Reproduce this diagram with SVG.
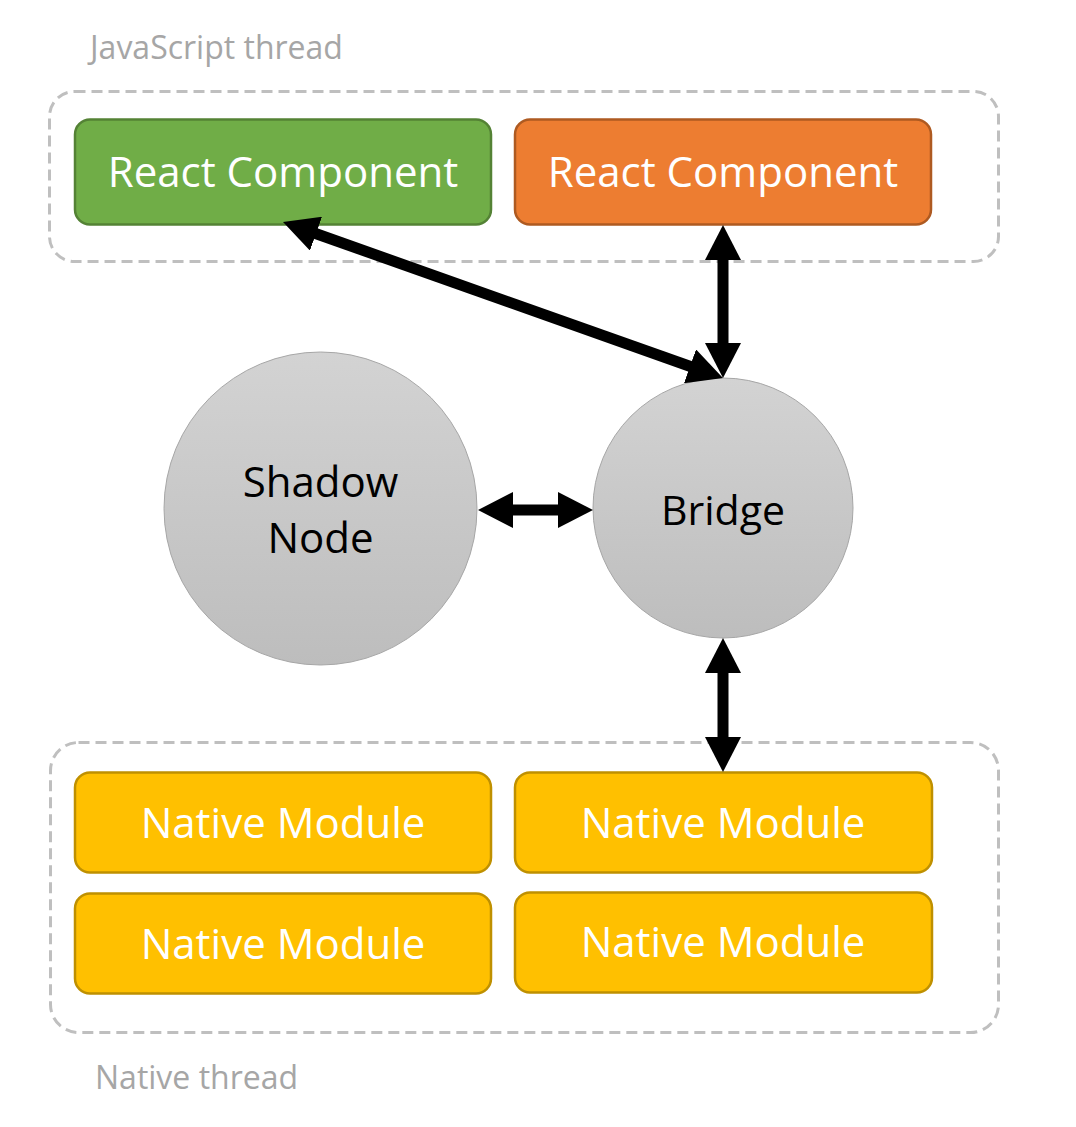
<svg xmlns="http://www.w3.org/2000/svg" width="1076" height="1127" viewBox="0 0 1076 1127">
<defs>
<linearGradient id="gray" x1="0" y1="0" x2="0" y2="1">
<stop offset="0" stop-color="#d3d3d3"/>
<stop offset="1" stop-color="#bdbdbd"/>
</linearGradient>
<marker id="ah" viewBox="0 0 35 36" refX="5" refY="18" markerWidth="35" markerHeight="36" markerUnits="userSpaceOnUse" orient="auto-start-reverse">
<path d="M0,0 L35,18 L0,36 z" fill="#000"/>
</marker>
<style>
.grp{fill:none;stroke:#bfbfbf;stroke-width:3;stroke-dasharray:11 6}
.glabel{font-family:"Open Sans","Liberation Sans",sans-serif;font-size:32px;fill:#a6a6a6}
.box{stroke-width:2.5}
.btxt{font-family:"Open Sans","Liberation Sans",sans-serif;font-size:42px;fill:#fff;text-anchor:middle}
.ctxt{font-family:"Open Sans","Liberation Sans",sans-serif;font-size:42px;fill:#000;text-anchor:middle}
.circ{fill:url(#gray);stroke:#a6a6a6;stroke-width:1}
.nm{fill:#ffc000;stroke:#bf9000}
.conn{stroke:#000;stroke-width:11;fill:none;marker-start:url(#ah);marker-end:url(#ah)}
</style>
</defs>
<g id="js-thread">
<rect class="grp" x="49.5" y="91.5" width="949" height="170" rx="25"/>
<text class="glabel" x="90" y="59">JavaScript thread</text>
</g>
<g id="native-thread">
<rect class="grp" x="50.5" y="742.5" width="948" height="290" rx="28"/>
<text class="glabel" x="95" y="1089">Native thread</text>
</g>
<g id="react-green">
<rect class="box" x="75" y="119.5" width="416" height="105" rx="15" fill="#70ad47" stroke="#548235"/>
<text class="btxt" x="283" y="187">React Component</text>
</g>
<g id="react-orange">
<rect class="box" x="515" y="119.5" width="416" height="105" rx="15" fill="#ed7d31" stroke="#ae5a21"/>
<text class="btxt" x="723" y="187">React Component</text>
</g>
<g id="shadow-node">
<circle class="circ" cx="320.5" cy="508.5" r="156.5"/>
<text class="ctxt" x="320.5" y="497">Shadow</text>
<text class="ctxt" x="320.5" y="553">Node</text>
</g>
<g id="bridge">
<circle class="circ" cx="723" cy="508" r="130"/>
<text class="ctxt" x="723" y="525" style="font-size:41px">Bridge</text>
</g>
<g id="native-module-1">
<rect class="box nm" x="75" y="772.5" width="416" height="100" rx="15"/>
<text class="btxt" x="283" y="838">Native Module</text>
</g>
<g id="native-module-2">
<rect class="box nm" x="515" y="772.5" width="417" height="100" rx="15"/>
<text class="btxt" x="723" y="838">Native Module</text>
</g>
<g id="native-module-3">
<rect class="box nm" x="75" y="893.5" width="416" height="100" rx="15"/>
<text class="btxt" x="283" y="959">Native Module</text>
</g>
<g id="native-module-4">
<rect class="box nm" x="515" y="892.5" width="417" height="100" rx="15"/>
<text class="btxt" x="723" y="957">Native Module</text>
</g>
<g id="connectors">
<line class="conn" x1="311.3" y1="232" x2="694.7" y2="368"/>
<line class="conn" x1="723" y1="255" x2="723" y2="348"/>
<line class="conn" x1="508" y1="510" x2="563" y2="510"/>
<line class="conn" x1="723" y1="668" x2="723" y2="742"/>
</g>
</svg>
